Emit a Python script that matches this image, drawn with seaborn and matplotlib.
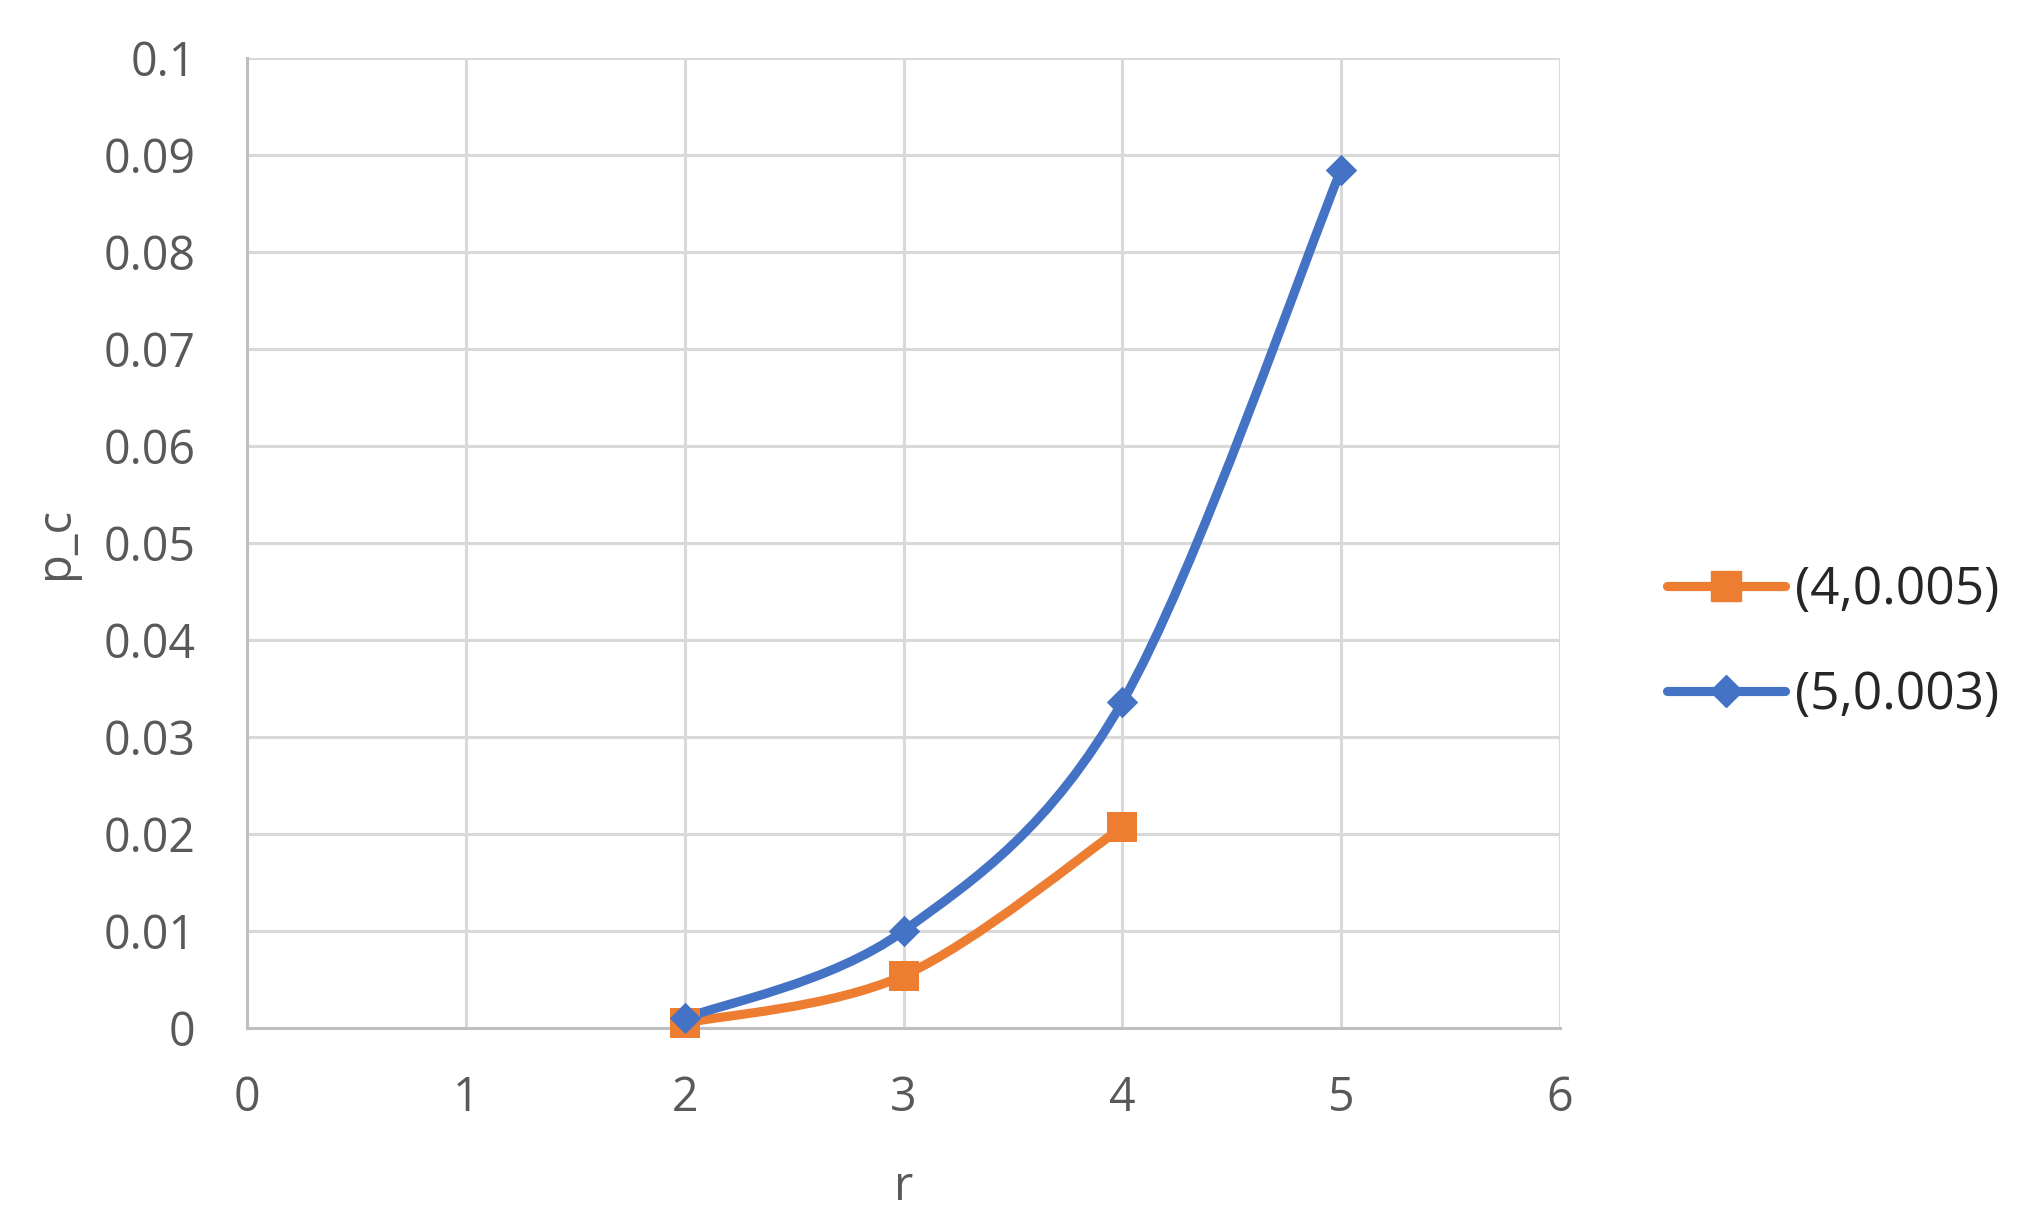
import numpy as np
import seaborn as sns
import matplotlib
matplotlib.use("Agg")
import matplotlib.pyplot as plt
from matplotlib.path import Path
from matplotlib.patches import PathPatch
from matplotlib.lines import Line2D

# values
r_orange = [2, 3, 4]
pc_orange = [0.0005, 0.0054, 0.0207]
r_blue = [2, 3, 4, 5]
pc_blue = [0.0010, 0.0100, 0.0336, 0.0885]
labels = ["(4,0.005)", "(5,0.003)"]

x_ticks = [0, 1, 2, 3, 4, 5, 6]
y_ticks = [0, 0.01, 0.02, 0.03, 0.04, 0.05, 0.06, 0.07, 0.08, 0.09, 0.1]
y_ticklabels = ["0", "0.01", "0.02", "0.03", "0.04", "0.05", "0.06",
                "0.07", "0.08", "0.09", "0.1"]

ORANGE = "#ED7D31"
BLUE = "#4472C4"


def smooth_path(xs, ys):
    # excel-like smoothed line: catmull-rom through the data points as bezier
    pts = np.column_stack([xs, ys]).astype(float)
    verts = [pts[0]]
    codes = [Path.MOVETO]
    n = len(pts)
    for i in range(n - 1):
        p0 = pts[i - 1] if i > 0 else pts[i]
        p1 = pts[i]
        p2 = pts[i + 1]
        p3 = pts[i + 2] if i + 2 < n else pts[i + 1]
        verts += [p1 + (p2 - p0) / 6, p2 - (p3 - p1) / 6, p2]
        codes += [Path.CURVE4] * 3
    return Path(verts, codes)


sns.set_theme(style="whitegrid")
plt.rcParams['font.family'] = ['Open Sans', 'DejaVu Sans']

fig = plt.figure(figsize=(20.4, 12.22), dpi=100)
ax = fig.add_axes([0.1211, 0.1588, 0.6436, 0.7937])
ax.set_facecolor("white")

lw = 6.6
for xs, ys, col, mk, ms in [(r_orange, pc_orange, ORANGE, "s", 22),
                             (r_blue, pc_blue, BLUE, "D", 16)]:
    ax.add_patch(PathPatch(smooth_path(xs, ys), facecolor="none", edgecolor=col,
                           lw=lw, capstyle="round", joinstyle="round", zorder=3))
    sns.scatterplot(x=xs, y=ys, ax=ax, marker=mk, s=ms ** 2, color=col,
                    edgecolor=col, linewidth=0, zorder=4, clip_on=False, legend=False)

ax.set_xlim(0, 6)
ax.set_ylim(0, 0.1)
ax.set_xticks(x_ticks)
ax.set_yticks(y_ticks)
ax.set_yticklabels(y_ticklabels)
ax.grid(True, color="#D9D9D9", linewidth=2.2)
for side in ["top", "right"]:
    ax.spines[side].set_visible(False)
for side in ["left", "bottom"]:
    ax.spines[side].set_visible(True)
    ax.spines[side].set_color("#BFBFBF")
    ax.spines[side].set_linewidth(2.2)
    ax.spines[side].set_zorder(2)
ax.tick_params(axis="both", length=0, labelsize=33.5, labelcolor="#595959")
ax.tick_params(axis="y", pad=37)
ax.tick_params(axis="x", pad=33.5)

ax.set_xlabel("r", fontsize=34, color="#595959", labelpad=30)
ax.set_ylabel("p_c", fontsize=34, color="#595959", labelpad=18)

handles = [Line2D([], [], color=ORANGE, lw=lw, marker="s", markersize=22,
                  solid_capstyle="round"),
           Line2D([], [], color=BLUE, lw=lw, marker="D", markersize=16,
                  solid_capstyle="round")]
fig.legend(handles, labels, loc="center left", bbox_to_anchor=(0.807, 0.474),
           frameon=False, fontsize=37, handlelength=2.3, handletextpad=0.2,
           labelspacing=1.05, borderaxespad=0)

fig.savefig("out.png", dpi=100, facecolor="white")
